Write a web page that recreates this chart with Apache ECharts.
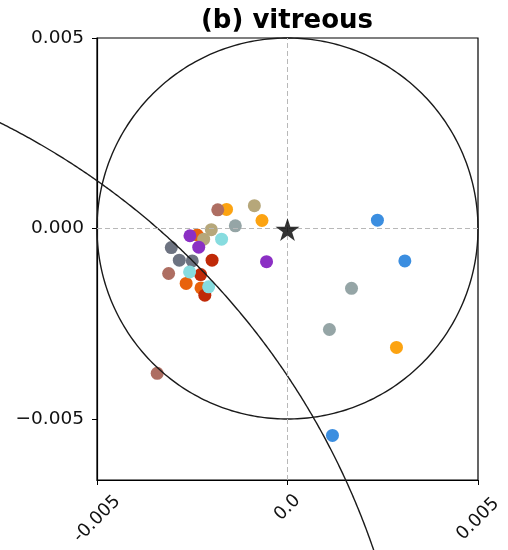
<!DOCTYPE html>
<html>
<head>
<meta charset="utf-8">
<script src="https://cdn.jsdelivr.net/npm/echarts@6/dist/echarts.min.js"></script>
<style>html,body{margin:0;padding:0;background:#fff}#c{width:508px;height:550px}</style>
</head>
<body>
<div id="c"></div>
<script>
// ---- data ----
const titleText = '(b) vitreous';
const xTickValues = [-0.005, 0, 0.005];
const xTickLabels = ['-0.005', '0.0', '0.005'];
const yTickValues = [-0.005, 0, 0.005];
const yTickLabels = ['\u22120.005', '0.000', '0.005'];

const groupNames = ['blue', 'orange', 'darkorange', 'red', 'gray', 'slate', 'khaki', 'brown', 'purple', 'cyan'];
const blueX = [0.00236, 0.00308, 0.00118];
const blueY = [0.00022, -0.00085, -0.00543];
const orangeX = [-0.00160, -0.00067, 0.00286];
const orangeY = [0.00050, 0.00021, -0.00312];
const darkorangeX = [-0.00237, -0.00266, -0.00227];
const darkorangeY = [-0.00017, -0.00144, -0.00156];
const redX = [-0.00198, -0.00228, -0.00217];
const redY = [-0.00083, -0.00121, -0.00175];
const grayX = [-0.00137, 0.00168, 0.00110];
const grayY = [0.00007, -0.00157, -0.00265];
const slateX = [-0.00305, -0.00284, -0.00250];
const slateY = [-0.00050, -0.00083, -0.00085];
const khakiX = [-0.00087, -0.00200, -0.00220];
const khakiY = [0.00060, -0.00003, -0.00028];
const brownX = [-0.00183, -0.00312, -0.00342];
const brownY = [0.00049, -0.00118, -0.00380];
const purpleX = [-0.00256, -0.00233, -0.00055];
const purpleY = [-0.00019, -0.00049, -0.00087];
const cyanX = [-0.00173, -0.00257, -0.00207];
const cyanY = [-0.00028, -0.00114, -0.00153];

const referencePoint = [0, 0];
// reference circles: [centerX, centerY, radius]
const unitCircle = [0, 0, 0.005];
const boundaryCircle = [-0.01633, -0.01480, 0.01965];

// ---- styles ----
const groupColors = {
  blue: '#3b8ee0', orange: '#fca311', darkorange: '#e8620c', red: '#c02a08',
  gray: '#95a5a6', slate: '#6d7381', khaki: '#b6a77a', brown: '#ae6e62',
  purple: '#8b2fc4', cyan: '#87dcdf'
};
const groupData = {
  blue: [blueX, blueY], orange: [orangeX, orangeY], darkorange: [darkorangeX, darkorangeY],
  red: [redX, redY], gray: [grayX, grayY], slate: [slateX, slateY], khaki: [khakiX, khakiY],
  brown: [brownX, brownY], purple: [purpleX, purpleY], cyan: [cyanX, cyanY]
};

function circlePoints(c, a0, a1, n) {
  const pts = [];
  for (let i = 0; i <= n; i++) {
    const a = (a0 + (a1 - a0) * i / n) * Math.PI / 180;
    pts.push([c[0] + c[2] * Math.cos(a), c[1] + c[2] * Math.sin(a)]);
  }
  return pts;
}

const FONT = 'DejaVu Sans';
const starPath = 'path://M100 0 L122.45 69.1 L195.1 69.1 L136.3 111.8 L158.8 180.9 L100 138.2 L41.2 180.9 L63.7 111.8 L4.9 69.1 L77.55 69.1 Z';

function curveSeries(points) {
  return {
    type: 'custom', z: 4, silent: true, clip: false,
    data: points,
    encode: {x: 0, y: 1},
    renderItem: function (params, api) {
      if (params.dataIndex !== 0) return null;
      const pts = points.map(p => api.coord(p));
      return {
        type: 'polyline',
        shape: {points: pts},
        style: {stroke: '#1a1a1a', lineWidth: 1.4, fill: null}
      };
    }
  };
}

const series = [];
// grid lines via markLine
series.push({
  type: 'line', data: [], silent: true, z: 1,
  markLine: {
    silent: true, symbol: 'none', label: {show: false}, animation: false,
    lineStyle: {color: '#b8b8b8', type: [5, 3], width: 1},
    data: [{yAxis: 0}, {yAxis: -0.005}, {xAxis: 0}]
  }
});
groupNames.forEach(g => {
  const [xs, ys] = groupData[g];
  series.push({
    type: 'scatter', name: g, z: 3,
    data: xs.map((x, i) => [x, ys[i]]),
    symbolSize: 13,
    itemStyle: {color: groupColors[g], opacity: 1},
    clip: false
  });
});
series.push(curveSeries(circlePoints(unitCircle, 0, 360, 360)));
series.push(curveSeries(circlePoints(boundaryCircle, 72, 12, 400)));
series.push({
  type: 'scatter', data: [referencePoint], symbol: starPath, symbolSize: 24, symbolKeepAspect: true,
  symbolOffset: [0, 1], itemStyle: {color: '#000'}, z: 5
});

const chart = echarts.init(document.getElementById('c'), null, {renderer: 'canvas'});
chart.setOption({
  animation: false,
  backgroundColor: '#fff',
  title: {
    text: titleText, left: 282, top: 3, textAlign: 'center',
    textStyle: {fontFamily: FONT, fontWeight: 'bold', fontSize: 26, color: '#000'}
  },
  grid: {left: 97, right: 30, top: 38, bottom: 70, show: true, borderColor: '#000', borderWidth: 1.2, backgroundColor: 'transparent'},
  xAxis: {
    type: 'value', min: -0.005, max: 0.005,
    axisLine: {show: true, lineStyle: {color: '#000', width: 1.2}, onZero: false},
    axisTick: {show: true, length: 5, inside: false, customValues: xTickValues, lineStyle: {color: '#000', width: 1}},
    splitLine: {show: false},
    axisLabel: {
      customValues: xTickValues, rotate: 45, align: 'center', verticalAlign: 'middle', margin: 39,
      fontFamily: FONT, fontSize: 18, color: '#111',
      formatter: function (v) {
        const i = xTickValues.findIndex(t => Math.abs(t - v) < 1e-9);
        const s = i >= 0 ? xTickLabels[i] : '';
        return s.length < 5 ? '{s|' + s + '}' : '{l|' + s + '}';
      },
      rich: {
        s: {fontFamily: FONT, fontSize: 18, color: '#111', padding: [0, 0, 16, 16]},
        l: {fontFamily: FONT, fontSize: 18, color: '#111'}
      }
    }
  },
  yAxis: {
    type: 'value', min: -0.0066, max: 0.005,
    axisLine: {show: true, lineStyle: {color: '#000', width: 1.2}, onZero: false},
    axisTick: {show: true, length: 5, inside: false, customValues: yTickValues, lineStyle: {color: '#000', width: 1}},
    splitLine: {show: false},
    axisLabel: {
      customValues: yTickValues, margin: 13,
      fontFamily: FONT, fontSize: 18.5, color: '#111',
      formatter: function (v) {
        const i = yTickValues.findIndex(t => Math.abs(t - v) < 1e-9);
        return i >= 0 ? yTickLabels[i] : '';
      }
    }
  },
  series: series
});
</script>
</body>
</html>
